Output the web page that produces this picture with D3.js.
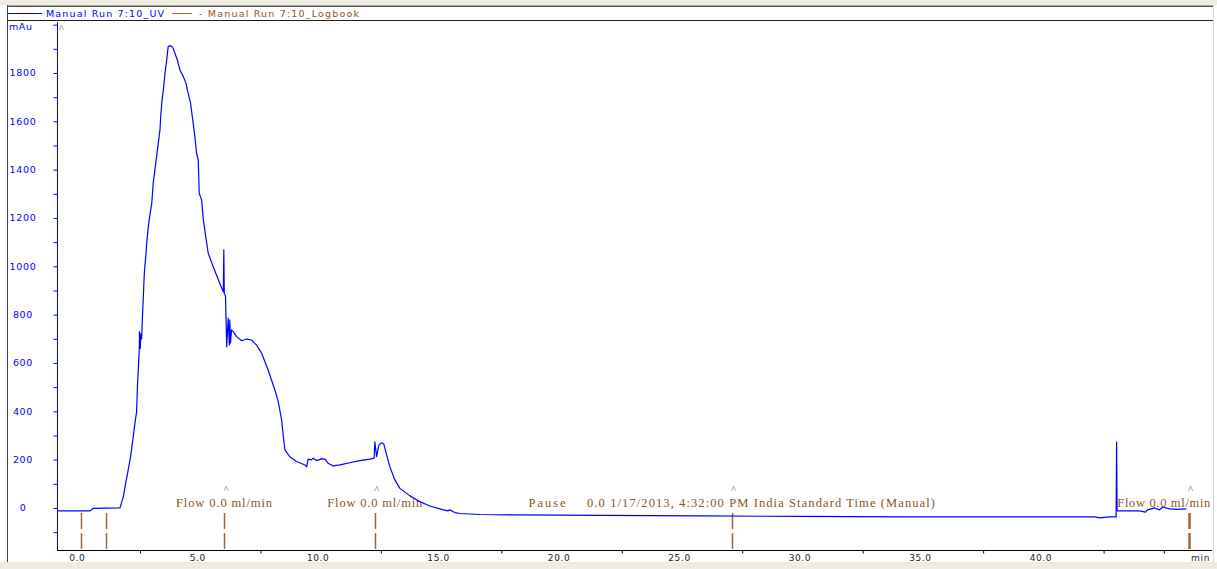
<!DOCTYPE html>
<html>
<head>
<meta charset="utf-8">
<script src="https://cdn.jsdelivr.net/npm/d3@7/dist/d3.min.js"></script>
<style>
  html, body { margin: 0; padding: 0; background: #ffffff; }
  svg { display: block; }
</style>
</head>
<body>
<svg id="chart" width="1217" height="569"></svg>
<script>
// UV trace (minutes, mAu)
const uvTime = [
  -0.94, 0.43, 0.55, 1.67, 1.81, 1.88, 2.01, 2.11, 2.22, 2.29, 2.36, 2.40, 2.43, 2.47,
  2.48, 2.51, 2.54, 2.57, 2.60, 2.64, 2.68, 2.74, 2.78, 2.84, 2.91, 2.99, 3.05, 3.12,
  3.19, 3.26, 3.33, 3.36, 3.41, 3.47, 3.54, 3.61, 3.67, 3.77, 3.86, 3.95, 4.05, 4.16,
  4.30, 4.41, 4.50, 4.60, 4.69, 4.78, 4.85, 4.92, 4.96, 5.06, 5.13, 5.33, 5.54, 5.89,
  5.96, 5.98, 6.00, 6.05, 6.10, 6.16, 6.21, 6.23, 6.26, 6.30, 6.37, 6.51, 6.72, 6.93,
  7.13, 7.34, 7.55, 7.82, 8.10, 8.24, 8.38, 8.45, 8.52, 8.72, 9.00, 9.35, 9.42, 9.48,
  9.62, 9.69, 9.83, 10.04, 10.18, 10.31, 10.52, 10.80, 11.21, 11.63, 12.04, 12.22, 12.25,
  12.32, 12.42, 12.53, 12.62, 12.74, 12.87, 13.08, 13.29, 13.71, 14.12, 14.53, 14.95,
  15.28, 15.36, 15.57, 15.78, 16.61, 18.27, 21.59, 25.74, 29.89, 34.04, 38.18, 42.13,
  42.33, 42.54, 42.75, 43.02, 43.04, 43.06, 43.99, 44.24, 44.32, 44.62, 44.82, 44.95,
  45.24, 45.57, 45.94
];
const uvValue = [
  -12, -12, -2, 0, 47, 88, 157, 212, 294, 350, 398, 516, 571, 654,
  730, 660, 720, 700, 785, 874, 971, 1040, 1095, 1159, 1212, 1261, 1344, 1399,
  1454, 1509, 1564, 1619, 1681, 1730, 1799, 1854, 1909, 1913, 1906, 1882, 1854, 1812,
  1785, 1757, 1716, 1675, 1606, 1536, 1468, 1440, 1302, 1274, 1192, 1055, 998, 910,
  895, 1068, 885, 880, 667, 786, 674, 778, 683, 737, 730, 709, 692, 699,
  695, 674, 640, 571, 488, 440, 364, 295, 240, 212, 192, 178, 170, 202,
  199, 206, 196, 203, 202, 185, 174, 178, 187, 196, 202, 206, 274,
  212, 261, 270, 265, 219, 171, 116, 81, 50, 26, 8, -4,
  -12, -8, -19, -23, -27, -29, -31, -33, -35, -37, -37, -37,
  -41, -39, -37, -37, 273, -12, -12, -17, -8, 0, -8, 4,
  -4, -6, -4
];

// Logbook events (minutes) and their texts
const logTime  = [0.05, 1.09, 5.99, 12.25, 27.06, 46.03];
const logHeavy = [false, false, false, false, false, true];
const caretTime = [5.99, 12.25, 27.06, 46.03];
const logLabels = [
  { text: "Flow 0.0 ml/min", at: 5.99, w: 96 },
  { text: "Flow 0.0 ml/min", at: 12.25, w: 95 },
  { text: "Pause", at: 19.4, w: 37 },
  { text: "0.0 1/17/2013, 4:32:00 PM India Standard Time (Manual)", at: 28.28, w: 348 },
  { text: "Flow 0.0 ml/min", at: 45.0, w: 93 }
];

// Axis ticks
const yTickValues = d3.range(-100, 2001, 100);
const yLabelValues = [0, 200, 400, 600, 800, 1000, 1200, 1400, 1600, 1800];
const xLabelValues = [0, 5, 10, 15, 20, 25, 30, 35, 40];
const xTickValues = d3.range(0, 46, 2.5);

const legendUV = "Manual Run 7:10_UV";
const legendLog = "- Manual Run 7:10_Logbook";

const BLUE = "#0000ff";
const BROWN_LINE = "#9a6a3a";
const BROWN_TEXT = "#8a5526";

const svg = d3.select("#chart");

const x = d3.scaleLinear().domain([-0.944, 47.0]).range([57, 1212]);
const y = d3.scaleLinear().domain([-174, 2011]).range([550, 22]);

// window frame
svg.append("rect").attr("x", 0).attr("y", 0).attr("width", 1217).attr("height", 569).attr("fill", "#ffffff");
svg.append("rect").attr("x", 0).attr("y", 0).attr("width", 1217).attr("height", 5).attr("fill", "#eeece1");
svg.append("rect").attr("x", 0).attr("y", 562).attr("width", 1217).attr("height", 7).attr("fill", "#eeece1");
svg.append("line").attr("x1", 7).attr("x2", 1213).attr("y1", 5.5).attr("y2", 5.5).attr("stroke", "#a8a8a0").attr("stroke-width", 1);
svg.append("line").attr("x1", 7).attr("x2", 1213).attr("y1", 6.5).attr("y2", 6.5).attr("stroke", "#505050").attr("stroke-width", 1);
svg.append("line").attr("x1", 7.5).attr("x2", 7.5).attr("y1", 5).attr("y2", 562).attr("stroke", "#404040").attr("stroke-width", 1);
svg.append("line").attr("x1", 1213.5).attr("x2", 1213.5).attr("y1", 5).attr("y2", 562).attr("stroke", "#dcd9cc").attr("stroke-width", 1);
svg.append("line").attr("x1", 7).attr("x2", 1213).attr("y1", 20.5).attr("y2", 20.5).attr("stroke", "#202020").attr("stroke-width", 1);

// legend
const lg = svg.append("g").attr("font-family", "DejaVu Sans, Verdana, sans-serif").attr("font-size", 9.5);
lg.append("line").attr("x1", 8).attr("x2", 42).attr("y1", 13.5).attr("y2", 13.5).attr("stroke", BLUE).attr("stroke-width", 1);
lg.append("text").attr("x", 46).attr("y", 16.5).attr("fill", BLUE)
  .attr("textLength", 118).attr("lengthAdjust", "spacing").text(legendUV);
lg.append("line").attr("x1", 172).attr("x2", 192).attr("y1", 13.5).attr("y2", 13.5).attr("stroke", BROWN_LINE).attr("stroke-width", 1);
lg.append("text").attr("x", 199).attr("y", 16.5).attr("fill", BROWN_TEXT)
  .attr("textLength", 160).attr("lengthAdjust", "spacing").text(legendLog);

// y axis
const yAxis = d3.axisLeft(y).tickValues(yTickValues).tickSize(4).tickFormat("");
const gy = svg.append("g").attr("transform", "translate(57.5,0)").call(yAxis);
gy.select(".domain").attr("stroke", BLUE).attr("d", `M0,${y.range()[1]}V${y.range()[0]}`);
gy.selectAll(".tick line").attr("stroke", BLUE);
svg.append("g").selectAll("text").data(yLabelValues).join("text")
  .attr("x", 23).attr("y", d => y(d) + 3.5)
  .attr("text-anchor", "middle")
  .attr("font-family", "DejaVu Sans, Verdana, sans-serif").attr("font-size", 9.5)
  .attr("letter-spacing", 0.7)
  .attr("fill", BLUE).text(d => d);
svg.append("text").attr("x", 9).attr("y", 30).attr("fill", BLUE)
  .attr("font-family", "DejaVu Sans, Verdana, sans-serif").attr("font-size", 9.5)
  .attr("letter-spacing", 0.6).text("mAu");

// x axis
const tickOnly = xTickValues.filter(t => !xLabelValues.includes(t));
const xAxis = d3.axisBottom(x).tickValues(tickOnly).tickSize(3).tickFormat("");
const gx = svg.append("g").attr("transform", "translate(0,550.5)").call(xAxis);
gx.select(".domain").attr("stroke", "#000").attr("d", `M${x.range()[0]},0H${x.range()[1]}`);
gx.selectAll(".tick line").attr("stroke", "#000");
svg.append("g").selectAll("text").data(xLabelValues).join("text")
  .attr("x", d => x(d) - 2.5).attr("y", 561)
  .attr("text-anchor", "middle")
  .attr("font-family", "DejaVu Sans, Verdana, sans-serif").attr("font-size", 9)
  .attr("letter-spacing", 0.6)
  .attr("fill", "#1a1a1a").text(d => d.toFixed(1));
svg.append("text").attr("x", 1191).attr("y", 561).attr("fill", "#1a1a1a")
  .attr("font-family", "DejaVu Sans, Verdana, sans-serif").attr("font-size", 9)
  .attr("letter-spacing", 0.8).text("min");

// logbook markers
svg.append("g").selectAll("line").data(logTime).join("line")
  .attr("x1", d => Math.round(x(d)) + 0.5).attr("x2", d => Math.round(x(d)) + 0.5)
  .attr("y1", 513).attr("y2", 550)
  .attr("stroke", BROWN_LINE)
  .attr("stroke-width", (d, i) => logHeavy[i] ? 2.5 : 1.5)
  .attr("stroke-dasharray", "16,4");

svg.append("g").selectAll("text").data(caretTime).join("text")
  .attr("x", d => x(d) + 2).attr("y", 493)
  .attr("text-anchor", "middle")
  .attr("font-family", "Liberation Serif, Times New Roman, serif").attr("font-size", 11)
  .attr("fill", BROWN_TEXT).text("^");
svg.append("text").attr("x", 61.5).attr("y", 32)
  .attr("text-anchor", "middle")
  .attr("font-family", "Liberation Serif, Times New Roman, serif").attr("font-size", 11)
  .attr("fill", BROWN_TEXT).text("^");

svg.append("g").selectAll("text").data(logLabels).join("text")
  .attr("x", d => x(d.at)).attr("y", 507)
  .attr("text-anchor", "middle")
  .attr("font-family", "Liberation Serif, Times New Roman, serif").attr("font-size", 12.5)
  .attr("fill", BROWN_TEXT)
  .attr("textLength", d => d.w).attr("lengthAdjust", "spacing")
  .text(d => d.text);

// UV curve
const uv = uvTime.map((t, i) => [t, uvValue[i]]);
svg.append("path")
  .datum(uv)
  .attr("fill", "none")
  .attr("stroke", BLUE)
  .attr("stroke-width", 1.2)
  .attr("stroke-linejoin", "round")
  .attr("d", d3.line().x(d => x(d[0])).y(d => y(d[1])));
</script>
</body>
</html>
